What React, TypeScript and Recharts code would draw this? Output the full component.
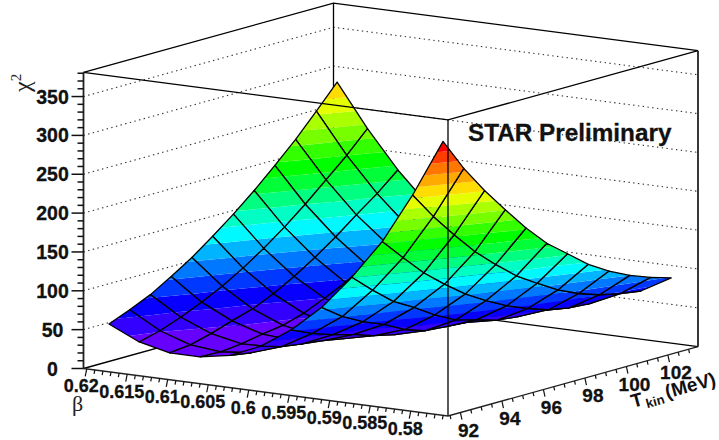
import { ScatterChart, Scatter, XAxis, YAxis } from 'recharts'

const betaGrid = [0.6188, 0.61505, 0.6113, 0.60755, 0.6038, 0.60005, 0.5963, 0.59255, 0.5888, 0.58505, 0.5813, 0.57755]
const tkinGrid = [92, 93, 94, 95, 96, 97, 98, 99, 100, 101, 102, 103]

const chi2Rows = [
  [55, 37, 28, 28, 35, 52, 78, 112, 156, 207, 272, 346],
  [66, 44, 31, 27, 31, 44, 66, 93, 132, 179, 237, 304],
  [78, 54, 38, 30, 31, 40, 57, 79, 110, 152, 206, 268],
  [94, 66, 47, 35, 32, 37, 50, 68, 95, 130, 177, 236],
  [111, 79, 55, 39, 32, 32, 41, 54, 78, 110, 153, 205],
  [131, 95, 67, 47, 35, 31, 35, 45, 64, 94, 131, 178],
  [152, 113, 82, 59, 43, 36, 37, 43, 57, 80, 114, 157],
  [175, 133, 99, 72, 53, 42, 39, 41, 49, 69, 98, 136],
  [200, 155, 118, 88, 65, 51, 43, 42, 46, 60, 86, 120],
  [226, 179, 139, 107, 81, 63, 53, 46, 46, 55, 77, 107],
  [255, 203, 159, 122, 92, 70, 56, 47, 46, 53, 71, 97],
  [285, 230, 182, 142, 110, 84, 67, 52, 47, 57, 67, 89],
]

const bandLevels = [27, 43, 59, 75, 91, 107, 123, 139, 155, 171, 187, 203, 219, 235, 251, 267, 283, 299, 315, 331, 347]
const bandColors = [
  '#6600ff', '#3300ff', '#0800ff', '#0038ff', '#0078ff', '#00b4ff', '#00f8ff', '#00ffc4', '#00ff80', '#00ff38',
  '#00ff00', '#33ff00', '#77ff00', '#aaff00', '#e6ff00', '#ffdd00', '#ffaa00', '#ff7700', '#ff3d00', '#ff0000',
]

const chi2Ticks = [0, 50, 100, 150, 200, 250, 300, 350]
const chi2Minor = [10, 20, 30, 40, 60, 70, 80, 90, 110, 120, 130, 140, 160, 170, 180, 190, 210, 220, 230, 240, 260, 270, 280, 290, 310, 320, 330, 340, 360, 370, 380]
const betaTicks = [0.62, 0.615, 0.61, 0.605, 0.6, 0.595, 0.59, 0.585, 0.58]
const betaTickLabels = ['0.62', '0.615', '0.61', '0.605', '0.6', '0.595', '0.59', '0.585', '0.58']
const betaMinor = [0.619, 0.618, 0.617, 0.616, 0.614, 0.613, 0.612, 0.611, 0.609, 0.608, 0.607, 0.606, 0.604, 0.603, 0.602, 0.601, 0.599, 0.598, 0.597, 0.596, 0.594, 0.593, 0.592, 0.591, 0.589, 0.588, 0.587, 0.586, 0.584, 0.583, 0.582, 0.581, 0.579, 0.578, 0.577, 0.576]
const tkinTicks = [92, 94, 96, 98, 100, 102]
const tkinMinor = [91.5, 92.5, 93, 93.5, 94.5, 95, 95.5, 96.5, 97, 97.5, 98.5, 99, 99.5, 100.5, 101, 101.5, 102.5, 103]

const BETA_HI = 0.6204
const BETA_LO = 0.5754
const TKIN_LO = 91.4
const TKIN_HI = 103.45
const CHI2_TOP = 381

// oblique projection of the box onto the page
const project = (beta: number, tkin: number, chi2: number) => {
  const u = (BETA_HI - beta) / (BETA_HI - BETA_LO)
  const v = (tkin - TKIN_LO) / (TKIN_HI - TKIN_LO)
  return { x: 83.5 + 364.5 * u + 250 * v, y: 368.5 + 47.5 * u - 69.3 * v - chi2 * 0.777, z: chi2 }
}

type Pt = { x: number; y: number; z: number }

const clipZ = (poly: Pt[], level: number, keepAbove: boolean) => {
  const out: Pt[] = []
  poly.forEach((a, n) => {
    const b = poly[(n + 1) % poly.length]
    const aIn = keepAbove ? a.z >= level : a.z <= level
    const bIn = keepAbove ? b.z >= level : b.z <= level
    if (aIn) out.push(a)
    if (aIn !== bIn) {
      const t = (level - a.z) / (b.z - a.z)
      out.push({ x: a.x + (b.x - a.x) * t, y: a.y + (b.y - a.y) * t, z: level })
    }
  })
  return out
}

// back to front, so nearer cells cover the ones behind
const cells: any[] = []
for (let i = 0; i < betaGrid.length - 1; i++) {
  for (let j = tkinGrid.length - 2; j >= 0; j--) {
    const quad = [
      project(betaGrid[i], tkinGrid[j], chi2Rows[j][i]),
      project(betaGrid[i + 1], tkinGrid[j], chi2Rows[j][i + 1]),
      project(betaGrid[i + 1], tkinGrid[j + 1], chi2Rows[j + 1][i + 1]),
      project(betaGrid[i], tkinGrid[j + 1], chi2Rows[j + 1][i]),
    ]
    const bands: { pts: Pt[]; color: string }[] = []
    bandColors.forEach((color, k) => {
      const pts = clipZ(clipZ(quad, bandLevels[k], true), bandLevels[k + 1], false)
      if (pts.length > 2) bands.push({ pts, color })
    })
    cells.push({ x: quad[0].x, y: quad[0].y, quad, bands })
  }
}

const toPoints = (pts: Pt[], ox: number, oy: number) => pts.map((p) => `${p.x + ox},${p.y + oy}`).join(' ')

const CellShape = (props: any) => {
  const { cx, cy, payload } = props
  const ox = cx - payload.x
  const oy = cy - payload.y
  return (
    <g>
      {payload.bands.map((b: any, n: number) => (
        <polygon key={n} points={toPoints(b.pts, ox, oy)} fill={b.color} />
      ))}
      <polygon points={toPoints(payload.quad, ox, oy)} fill="none" stroke="#000" strokeWidth={1.3} strokeLinejoin="round" />
    </g>
  )
}

const TickShape = (props: any) => {
  const { cx, cy, payload } = props
  return <line x1={cx} y1={cy} x2={cx + payload.dx} y2={cy + payload.dy} stroke="#111" strokeWidth={payload.w} />
}

const LabelShape = (props: any) => {
  const { cx, cy, payload } = props
  return (
    <text
      x={cx + payload.dx}
      y={cy + payload.dy}
      textAnchor="middle"
      fontFamily="Liberation Sans"
      fontWeight="bold"
      fontSize={payload.size}
      fill="#111"
      stroke="#111"
      strokeWidth={0.3}
    >
      {payload.label}
    </text>
  )
}

const noDot = () => null

const corner = (beta: number, tkin: number, chi2: number) => project(beta, tkin, chi2)

const frameBack = [
  [corner(BETA_HI, TKIN_LO, 0), corner(BETA_HI, TKIN_HI, 0), corner(BETA_LO, TKIN_HI, 0)],
  [corner(BETA_HI, TKIN_HI, 0), corner(BETA_HI, TKIN_HI, CHI2_TOP)],
  [corner(BETA_HI, TKIN_LO, CHI2_TOP), corner(BETA_HI, TKIN_HI, CHI2_TOP), corner(BETA_LO, TKIN_HI, CHI2_TOP)],
]
const frameFront = [
  [corner(BETA_HI, TKIN_LO, CHI2_TOP), corner(BETA_LO, TKIN_LO, CHI2_TOP), corner(BETA_LO, TKIN_HI, CHI2_TOP)],
  [corner(BETA_LO, TKIN_LO, 0), corner(BETA_LO, TKIN_LO, CHI2_TOP)],
]
const frameAxes = [
  [corner(BETA_HI, TKIN_LO, 0), corner(BETA_HI, TKIN_LO, CHI2_TOP)],
  [corner(BETA_LO, TKIN_HI, 0), corner(BETA_LO, TKIN_HI, CHI2_TOP)],
  [corner(BETA_HI, TKIN_LO, 0), corner(BETA_LO, TKIN_LO, 0), corner(BETA_LO, TKIN_HI, 0)],
]
const gridLines = chi2Ticks.slice(1).map((v) => [
  corner(BETA_HI, TKIN_LO, v),
  corner(BETA_HI, TKIN_HI, v),
  corner(BETA_LO, TKIN_HI, v),
])

const chi2TickData = [
  ...chi2Ticks.map((v) => ({ ...corner(BETA_HI, TKIN_LO, v), dx: -12, dy: 0, w: 1.5 })),
  ...chi2Minor.map((v) => ({ ...corner(BETA_HI, TKIN_LO, v), dx: -6, dy: 0, w: 1.5 })),
]
const betaTickData = [
  ...betaTicks.map((v) => ({ ...corner(v, TKIN_LO, 0), dx: -1.5, dy: 7.5, w: 1.2 })),
  ...betaMinor.map((v) => ({ ...corner(v, TKIN_LO, 0), dx: -0.8, dy: 4, w: 1.2 })),
]
const tkinTickData = [
  ...tkinTicks.map((v) => ({ ...corner(BETA_LO, v, 0), dx: 1.5, dy: 7, w: 1.2 })),
  ...tkinMinor.map((v) => ({ ...corner(BETA_LO, v, 0), dx: 0.8, dy: 3.8, w: 1.2 })),
]

const chi2Labels = chi2Ticks.map((v) => ({ ...corner(BETA_HI, TKIN_LO, v), label: String(v), dx: -31, dy: 7, size: 19.5 }))
const betaLabels = betaTicks.map((v, n) => ({ ...corner(v, TKIN_LO, 0), label: betaTickLabels[n], dx: -5.5, dy: 23.5, size: 18 }))
const tkinLabels = tkinTicks.map((v) => ({ ...corner(BETA_LO, v, 0), label: String(v), dx: 8, dy: 24, size: 19 }))

const Title = () => (
  <text x={0} y={0} fontFamily="Liberation Sans" fontWeight="bold" fontSize={24.3} fill="#111" stroke="#111" strokeWidth={0.3}>
    STAR Preliminary
  </text>
)

const titleAnchor = [{ x: 468, y: 141 }]
const betaAnchor = [{ x: 72, y: 411 }]
const chiAnchor = [{ x: 30, y: 92 }]
const tkinAnchor = [{ x: 633, y: 408 }]

const At = (props: any) => {
  const { cx, cy, render, rotate } = props
  return <g transform={`translate(${cx} ${cy}) rotate(${rotate ?? 0})`}>{render}</g>
}

export default function App() {
  const line = (pts: any[], key: string, style: any) => (
    <Scatter key={key} data={pts} line={style} shape={noDot} isAnimationActive={false} />
  )
  return (
    <div style={{ position: 'absolute', left: 0, top: 0, background: '#fff' }}>
      <ScatterChart width={719} height={440} margin={{ top: 0, right: 0, bottom: 0, left: 0 }}>
        <XAxis type="number" dataKey="x" domain={[0, 719]} hide allowDataOverflow />
        <YAxis type="number" dataKey="y" domain={[0, 440]} reversed hide allowDataOverflow />
        <Scatter data={titleAnchor} isAnimationActive={false} shape={(p: any) => <At {...p} render={<Title />} />} />
        {gridLines.map((pts, n) => line(pts, `grid${n}`, { stroke: '#333', strokeWidth: 1.1, strokeDasharray: '1.4 3.4' }))}
        {frameBack.map((pts, n) => line(pts, `back${n}`, { stroke: '#000', strokeWidth: 1.3 }))}
        <Scatter data={cells} shape={CellShape} isAnimationActive={false} />
        {frameFront.map((pts, n) => line(pts, `front${n}`, { stroke: '#000', strokeWidth: 1.3 }))}
        {frameAxes.map((pts, n) => line(pts, `axis${n}`, { stroke: '#222', strokeWidth: n === 2 ? 1.4 : 1.8 }))}
        <Scatter data={chi2TickData} shape={TickShape} isAnimationActive={false} />
        <Scatter data={betaTickData} shape={TickShape} isAnimationActive={false} />
        <Scatter data={tkinTickData} shape={TickShape} isAnimationActive={false} />
        <Scatter data={chi2Labels} shape={LabelShape} isAnimationActive={false} />
        <Scatter data={betaLabels} shape={LabelShape} isAnimationActive={false} />
        <Scatter data={tkinLabels} shape={LabelShape} isAnimationActive={false} />
        <Scatter
          data={betaAnchor}
          isAnimationActive={false}
          shape={(p: any) => <At {...p} render={<text fontFamily="Liberation Serif" fontSize={22} fill="#222">β</text>} />}
        />
        <Scatter
          data={chiAnchor}
          isAnimationActive={false}
          shape={(p: any) => (
            <At
              {...p}
              rotate={-90}
              render={
                <text fontFamily="Liberation Serif" fontSize={24} fill="#222">
                  χ<tspan fontSize={15} dy={-9}>2</tspan>
                </text>
              }
            />
          )}
        />
        <Scatter
          data={tkinAnchor}
          isAnimationActive={false}
          shape={(p: any) => (
            <At
              {...p}
              rotate={-15.5}
              render={
                <text fontFamily="Liberation Sans" fontWeight="bold" fontSize={19} fill="#111">
                  T<tspan fontSize={13} dx={2} dy={4}>kin</tspan>
                  <tspan dx={3} dy={-4}>(MeV)</tspan>
                </text>
              }
            />
          )}
        />
      </ScatterChart>
    </div>
  )
}
